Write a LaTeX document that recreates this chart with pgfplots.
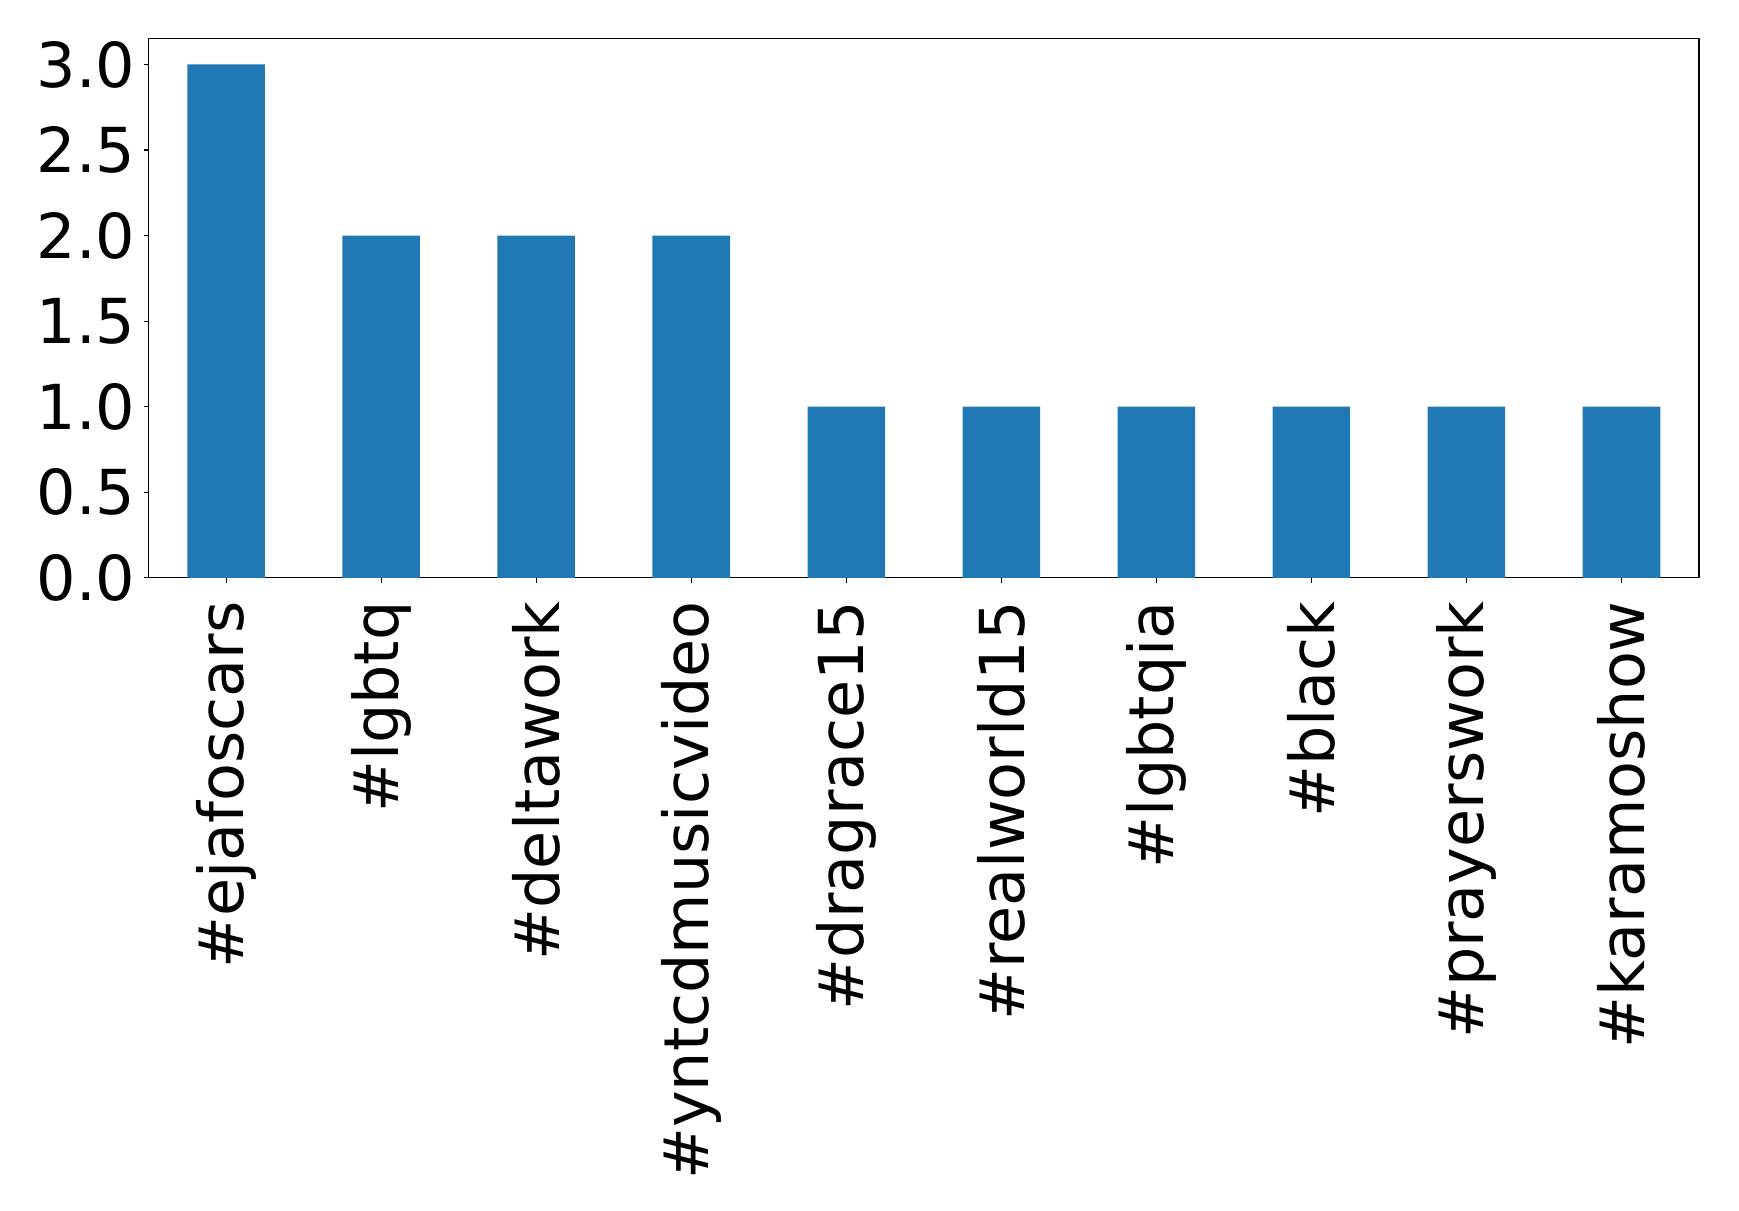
\documentclass[border=0pt]{standalone}
\usepackage{fontspec}
\setmainfont{DejaVu Sans}
\usepackage{pgfplots}
\pgfplotsset{compat=1.18}
\definecolor{mplblue}{HTML}{1F77B4}
\begin{document}
\begin{tikzpicture}
\path[use as bounding box] (0,0) rectangle (434.75pt,302.75pt);
\begin{axis}[
  at={(37.15pt,158.3pt)}, anchor=south west,
  scale only axis, width=387.6pt, height=134.75pt,
  xmin=-0.5, xmax=9.5, ymin=0, ymax=3.15,
  axis line style={line width=0.28pt},
  every tick/.style={black, line width=0.28pt},
  major tick length=1.2pt,
  tick align=outside, tick pos=left,
  xtick=data,
  xticklabels={\#ejafoscars,\#lgbtq,\#deltawork,\#yntcdmusicvideo,\#dragrace15,\#realworld15,\#lgbtqia,\#black,\#prayerswork,\#karamoshow},
  ytick={0,0.5,1,1.5,2,2.5,3},
  yticklabels={0.0,0.5,1.0,1.5,2.0,2.5,3.0},
  ticklabel style={font=\fontsize{15.5pt}{18pt}\selectfont},
  xticklabel style={rotate=90, anchor=east, inner sep=0pt},
  xticklabel shift=4.5pt,
  yticklabel style={inner sep=0pt},
  yticklabel shift=1.9pt,
  ybar, bar width=0.5, bar shift=0pt,
]
\addplot[fill=mplblue, draw=none] coordinates {(0,3) (1,2) (2,2) (3,2) (4,1) (5,1) (6,1) (7,1) (8,1) (9,1)};
\end{axis}
\end{tikzpicture}
\end{document}
